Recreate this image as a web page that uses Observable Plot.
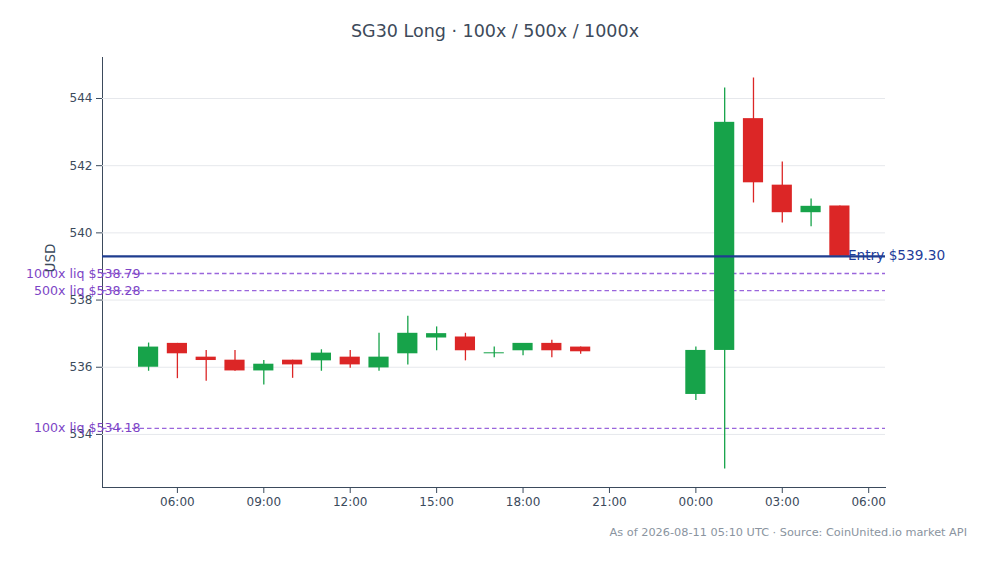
<!DOCTYPE html>
<html>
<head>
<meta charset="utf-8">
<script src="https://cdn.jsdelivr.net/npm/d3@7"></script>
<script src="https://cdn.jsdelivr.net/npm/@observablehq/plot@0.6"></script>
<style>
  html, body { margin: 0; padding: 0; background: #fff; }
  body { width: 990px; height: 564px; overflow: hidden; font-family: "DejaVu Sans", sans-serif; }
  #title { height: 46px; box-sizing: border-box; padding-top: 20px; line-height: 22px; text-align: center; font-size: 17.5px; color: #3d4a5a; }
  #caption { box-sizing: border-box; padding-top: 8px; padding-right: 23px; line-height: 15px; text-align: right; font-size: 11.3px; color: #8a94a0; }
  #chart svg { display: block; }
</style>
</head>
<body>
<div id="title">SG30 Long · 100x / 500x / 1000x</div>
<div id="chart"></div>
<div id="caption">As of 2026-08-11 05:10 UTC · Source: CoinUnited.io market API</div>
<script>
// Hourly candles (UTC)
const times = [
  "2026-08-10T05:00Z","2026-08-10T06:00Z","2026-08-10T07:00Z","2026-08-10T08:00Z",
  "2026-08-10T09:00Z","2026-08-10T10:00Z","2026-08-10T11:00Z","2026-08-10T12:00Z",
  "2026-08-10T13:00Z","2026-08-10T14:00Z","2026-08-10T15:00Z","2026-08-10T16:00Z",
  "2026-08-10T17:00Z","2026-08-10T18:00Z","2026-08-10T19:00Z","2026-08-10T20:00Z",
  "2026-08-11T00:00Z","2026-08-11T01:00Z","2026-08-11T02:00Z","2026-08-11T03:00Z",
  "2026-08-11T04:00Z","2026-08-11T05:00Z"
];
const opens  = [536.00,536.71,536.30,536.21,535.89,536.21,536.19,536.30,535.98,536.40,536.87,536.90,536.40,536.49,536.71,536.60,535.19,536.50,543.40,541.42,540.60,540.80];
const closes = [536.60,536.40,536.20,535.89,536.09,536.07,536.42,536.07,536.30,537.01,537.00,536.49,536.43,536.71,536.49,536.46,536.50,543.29,541.49,540.60,540.79,539.30];
const highs  = [536.72,536.71,536.50,536.50,536.20,536.21,536.52,536.50,537.01,537.52,537.20,537.01,536.60,536.71,536.80,536.60,536.60,544.31,544.61,542.11,541.01,540.80];
const lows   = [535.88,535.66,535.58,535.88,535.47,535.67,535.88,535.97,535.88,536.07,536.49,536.19,536.28,536.34,536.28,536.39,535.01,532.97,540.89,540.29,540.18,539.30];

const entryPrice = 539.30;
const liqLabels = ["1000x liq", "500x liq", "100x liq"];
const liqPrices = [538.79, 538.28, 534.18];

const xDomain = ["2026-08-10T03:24Z", "2026-08-11T06:35Z"];
const yDomain = [532.42, 545.22];
const yTicks = [534, 536, 538, 540, 542, 544];

const GREEN = "#17a34a";
const RED = "#dc2626";

const candles = times.map((t, i) => ({
  t: new Date(t), open: opens[i], close: closes[i], high: highs[i], low: lows[i],
  up: closes[i] >= opens[i]
}));
const liqs = liqLabels.map((l, i) => ({label: l, price: liqPrices[i]}));
const entry = [{price: entryPrice, t: candles[candles.length - 1].t}];

const halfBody = 21 * 60 * 1000;

const chart = Plot.plot({
  width: 990,
  height: 471,
  marginTop: 11,
  marginBottom: 30,
  marginLeft: 102,
  marginRight: 105,
  style: {fontFamily: "DejaVu Sans, sans-serif", fontSize: "12px", color: "#3b4a5c", background: "#fff"},
  x: {type: "utc", domain: xDomain.map(d => new Date(d)), ticks: d3.utcHour.every(3), tickFormat: d3.utcFormat("%H:%M"), line: true, tickSize: 6, tickPadding: 4, label: null},
  y: {domain: yDomain, ticks: yTicks, line: true, tickSize: 6, tickPadding: 4, label: null},
  marks: [
    Plot.gridY(yTicks, {stroke: "#e6e8ec", strokeOpacity: 1}),
    Plot.ruleY(liqs, {y: "price", stroke: "#9a66dc", strokeWidth: 1.3, strokeDasharray: "4.5,3"}),
    Plot.ruleX(candles, {x: "t", y1: "low", y2: "high", stroke: d => d.up ? GREEN : RED, strokeWidth: 1.3}),
    Plot.rect(candles, {x1: d => new Date(+d.t - halfBody), x2: d => new Date(+d.t + halfBody), y1: "open", y2: "close", fill: d => d.up ? GREEN : RED}),
    Plot.ruleY(entry, {y: "price", stroke: "#1f3d8f", strokeWidth: 2.2}),
    Plot.text(entry, {x: "t", y: "price", text: d => `Entry $${d.price.toFixed(2)}`, textAnchor: "start", dx: 8, dy: -1, fill: "#1f3d9a", fontSize: 13.7}),
    Plot.text(liqs, {frameAnchor: "left", y: "price", text: d => `${d.label} $${d.price.toFixed(2)}`, textAnchor: "end", dx: 38, fill: "#7c44c6", fontSize: 12.6}),
    Plot.text(["USD"], {frameAnchor: "left", text: d => d, rotate: -90, dx: -52, fill: "#3b4a5c", fontSize: 13.5})
  ]
});
document.getElementById("chart").appendChild(chart);
</script>
</body>
</html>
